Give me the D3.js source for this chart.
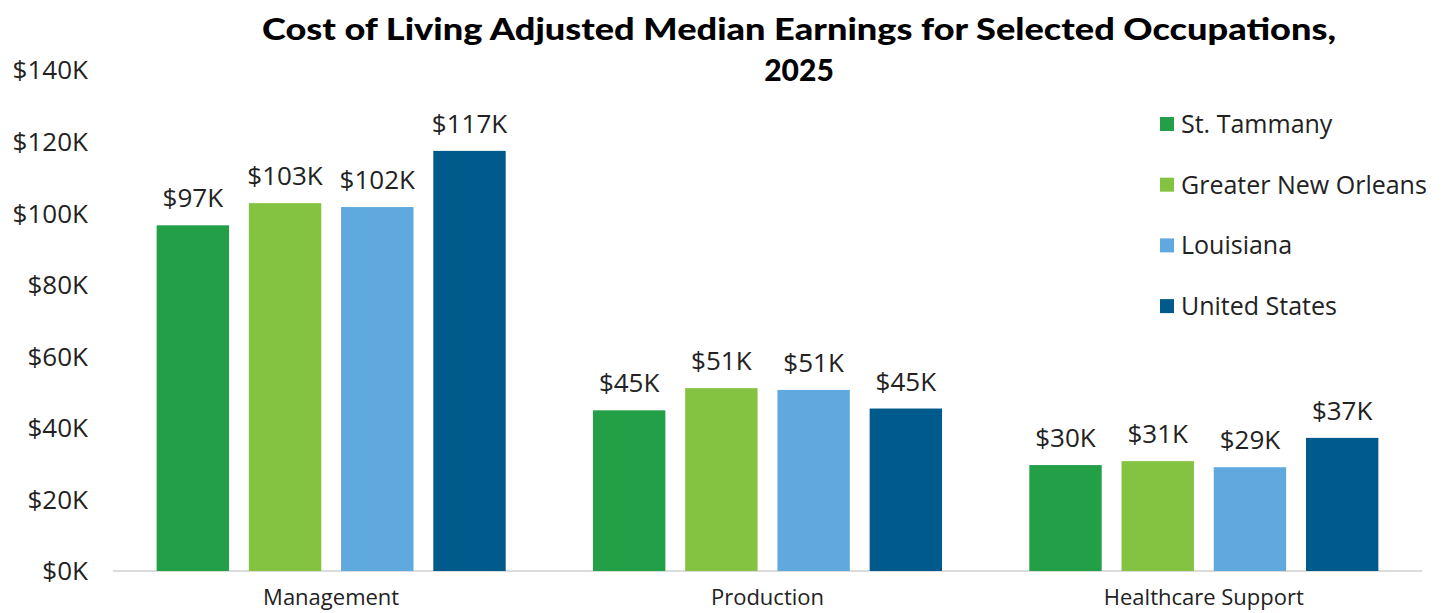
<!DOCTYPE html>
<html>
<head>
<meta charset="utf-8">
<script src="https://cdn.jsdelivr.net/npm/d3@7"></script>
<style>
  body { margin: 0; background: #fff; }
  text { font-family: "Open Sans", sans-serif; fill: #222; }
</style>
</head>
<body>
<div id="chart"></div>
<script>
// Chart data
var categories = ["Management", "Production", "Healthcare Support"];
var seriesNames = ["St. Tammany", "Greater New Orleans", "Louisiana", "United States"];
var seriesColors = ["#23a047", "#83c341", "#5fa9df", "#005a8c"];
var stTammany = [96.6, 44.9, 29.6];
var greaterNewOrleans = [102.8, 51.1, 30.7];
var louisiana = [101.7, 50.6, 29.0];
var unitedStates = [117.4, 45.4, 37.2];
var yTicks = [0, 20, 40, 60, 80, 100, 120, 140];

var seriesValues = [stTammany, greaterNewOrleans, louisiana, unitedStates];

var width = 1449, height = 613;
var margin = { left: 113, right: 27, top: 70, bottom: 42 };

var svg = d3.select("#chart").append("svg")
    .attr("width", width)
    .attr("height", height);

// Scales: one band per occupation, bars take the middle 80%
var x0 = d3.scaleBand()
    .domain(categories)
    .range([margin.left, width - margin.right])
    .padding(0);

var x1 = d3.scaleBand()
    .domain(seriesNames)
    .range([x0.bandwidth() * 0.1, x0.bandwidth() * 0.9])
    .paddingInner(0.215)
    .paddingOuter(0);

var y = d3.scaleLinear()
    .domain([0, 140])
    .range([height - margin.bottom, margin.top]);

// Y axis labels
svg.append("g")
    .selectAll("text")
    .data(yTicks)
    .enter()
    .append("text")
    .attr("x", 88)
    .attr("y", d => y(d))
    .attr("dy", "0.36em")
    .attr("text-anchor", "end")
    .style("font-size", "26px")
    .text(d => "$" + d + "K");

// Baseline
svg.append("line")
    .attr("x1", margin.left)
    .attr("x2", width - margin.right)
    .attr("y1", y(0))
    .attr("y2", y(0))
    .attr("stroke", "#d0d0d0")
    .attr("stroke-width", 1.5);

// Bars
var rows = [];
categories.forEach((c, i) => {
  seriesNames.forEach((s, j) => {
    rows.push({ cat: c, series: s, value: seriesValues[j][i], color: seriesColors[j] });
  });
});

svg.append("g")
    .selectAll("rect")
    .data(rows)
    .enter()
    .append("rect")
    .attr("x", d => x0(d.cat) + x1(d.series))
    .attr("y", d => y(d.value))
    .attr("width", x1.bandwidth())
    .attr("height", d => y(0) - y(d.value))
    .attr("fill", d => d.color);

// Value labels
svg.append("g")
    .selectAll("text")
    .data(rows)
    .enter()
    .append("text")
    .attr("x", d => x0(d.cat) + x1(d.series) + x1.bandwidth() / 2)
    .attr("y", d => y(d.value) - 18)
    .attr("text-anchor", "middle")
    .style("font-size", "26px")
    .text(d => "$" + d3.format(".0f")(d.value) + "K");

// Category labels
svg.append("g")
    .selectAll("text")
    .data(categories)
    .enter()
    .append("text")
    .attr("x", d => x0(d) + x0.bandwidth() / 2)
    .attr("y", 605)
    .attr("text-anchor", "middle")
    .style("font-size", "22px")
    .text(d => d);

// Title
var title = svg.append("g");
title.append("text")
    .attr("x", 799)
    .attr("y", 40)
    .attr("text-anchor", "middle")
    .attr("textLength", 1074)
    .attr("lengthAdjust", "spacingAndGlyphs")
    .style("font-family", "Lato, sans-serif")
    .style("font-size", "30px")
    .style("font-weight", "900")
    .style("fill", "#000")
    .text("Cost of Living Adjusted Median Earnings for Selected Occupations,");
title.append("text")
    .attr("x", 799)
    .attr("y", 81)
    .attr("text-anchor", "middle")
    .style("font-family", "Lato, sans-serif")
    .style("font-size", "30px")
    .style("font-weight", "900")
    .style("fill", "#000")
    .text("2025");

// Legend
var legend = svg.append("g")
    .selectAll("g")
    .data(seriesNames)
    .enter()
    .append("g")
    .attr("transform", (d, i) => "translate(1160," + (124 + i * 60.7) + ")");

legend.append("rect")
    .attr("x", 0)
    .attr("y", -7)
    .attr("width", 14)
    .attr("height", 14)
    .attr("fill", (d, i) => seriesColors[i]);

legend.append("text")
    .attr("x", 21)
    .attr("dy", "0.36em")
    .style("font-size", "25px")
    .text(d => d);
</script>
</body>
</html>
